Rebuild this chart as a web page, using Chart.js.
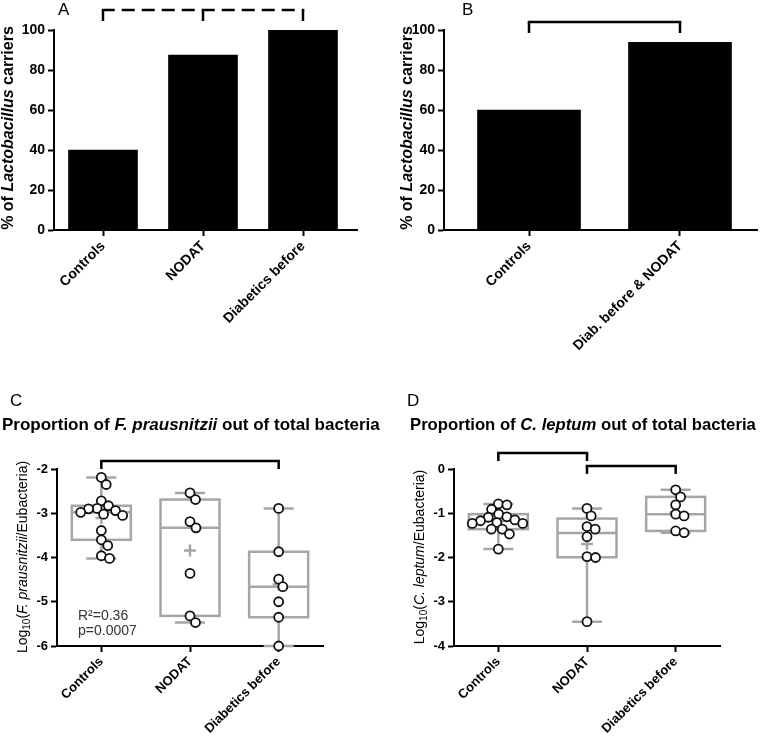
<!DOCTYPE html>
<html><head><meta charset="utf-8">
<script src="https://cdn.jsdelivr.net/npm/chart.js@4"></script>
<style>
body{margin:0;background:#fff;}
#wrap{position:relative;width:763px;height:736px;overflow:hidden;font-family:"Liberation Sans",Arial,sans-serif;color:#000;}
canvas{position:absolute;}
.t{position:absolute;white-space:nowrap;}
.let{font-size:17px;line-height:20px;}
.ttl{font-size:17px;font-weight:bold;line-height:20px;}
.ya{font-size:16px;font-weight:bold;line-height:20px;height:20px;width:300px;text-align:center;transform:rotate(-90deg);transform-origin:50% 50%;}
.yl{font-size:14px;line-height:18px;height:18px;width:300px;text-align:center;transform:rotate(-90deg);transform-origin:50% 50%;}
.yl sub{font-size:10px;vertical-align:-3px;line-height:0;}
.st{font-size:14px;line-height:15px;color:#333;}
</style></head>
<body>
<div id="wrap">
<canvas id="cA" width="380" height="380" style="left:0;top:0"></canvas>
<canvas id="cB" width="383" height="380" style="left:380px;top:0"></canvas>
<canvas id="cC" width="380" height="356" style="left:0;top:380px"></canvas>
<canvas id="cD" width="383" height="356" style="left:380px;top:380px"></canvas>

<div class="t let" style="left:58px;top:0px">A</div>
<div class="t let" style="left:462px;top:0px">B</div>
<div class="t let" style="left:10px;top:391px">C</div>
<div class="t let" style="left:407px;top:391px">D</div>

<div class="t ttl" style="left:2px;top:415px">Proportion of <i>F. prausnitzii</i> out of total bacteria</div>
<div class="t ttl" style="left:410px;top:415px;font-size:16.7px">Proportion of <i>C. leptum</i> out of total bacteria</div>

<div class="t ya" style="left:-142px;top:118px">% of <i>Lactobacillus</i> carriers</div>
<div class="t ya" style="left:257px;top:118px">% of <i>Lactobacillus</i> carriers</div>
<div class="t yl" style="left:-128px;top:548px">Log<sub>10</sub>(<i>F. prausnitzii</i>/Eubacteria)</div>
<div class="t yl" style="left:269px;top:548px">Log<sub>10</sub>(<i>C. leptum</i>/Eubacteria)</div>

<div class="t st" style="left:78px;top:608px">R²=0.36<br>p=0.0007</div>
</div>
<script>
// ---------- data ----------
const catsA = ['Controls', 'NODAT', 'Diabetics before'];
const valsA = [40, 87.5, 100];

const catsB = ['Controls', 'Diab. before & NODAT'];
const valsB = [60, 93.8];

const catsC = ['Controls', 'NODAT', 'Diabetics before'];
const fpControls = [-2.19, -2.35, -2.72, -2.83, -2.89, -2.90, -2.94, -2.98, -3.02, -3.05, -3.39, -3.60, -3.73, -3.96, -4.02];
const fpNodat = [-2.54, -2.69, -3.19, -3.33, -4.36, -5.32, -5.47];
const fpDiab = [-2.89, -3.87, -4.49, -4.66, -5.00, -5.35, -6.00];

const catsD = ['Controls', 'NODAT', 'Diabetics before'];
const clControls = [-0.79, -0.81, -0.91, -1.02, -1.08, -1.09, -1.15, -1.17, -1.21, -1.23, -1.23, -1.36, -1.36, -1.47, -1.81];
const clNodat = [-0.89, -1.06, -1.30, -1.36, -1.53, -1.98, -2.00, -3.45];
const clDiab = [-0.47, -0.63, -0.81, -1.02, -1.06, -1.40, -1.44];

// ---------- styling helpers ----------
Chart.defaults.font.family = '"Liberation Sans", Arial, sans-serif';
Chart.defaults.color = '#000';

const gridStyle = {display: true, offset: false, drawOnChartArea: false, drawTicks: true, tickLength: 6, tickWidth: 2, tickColor: '#000'};
const borderStyle = {display: true, color: '#000', width: 2};

function catAxis(labels, min, max, fontSize, h) {
  return {
    type: 'linear', min: min, max: max, offset: false,
    afterBuildTicks: s => { s.ticks = labels.map((_, i) => ({value: i})); },
    afterFit: s => { s.height = h; },
    ticks: {autoSkip: false, minRotation: 45, maxRotation: 45, padding: 2,
      font: {size: fontSize, weight: 'bold'}, color: '#000',
      callback: (v, i) => labels[i]},
    grid: gridStyle, border: borderStyle
  };
}
function valAxis(min, max, step, fontSize, w) {
  return {
    type: 'linear', min: min, max: max,
    afterFit: s => { s.width = w; },
    ticks: {stepSize: step, padding: 3, font: {size: fontSize, weight: 'bold'}, color: '#000'},
    grid: gridStyle, border: borderStyle
  };
}
function bracketPlugin(list) {
  return {
    id: 'brackets',
    afterDraw(chart) {
      const ctx = chart.ctx, xs = chart.scales.x, ys = chart.scales.y;
      ctx.save();
      ctx.strokeStyle = '#000';
      ctx.lineWidth = 2.5;
      for (const b of list) {
        const y0 = ys.getPixelForValue(b.y), y1 = ys.getPixelForValue(b.drop);
        const xa = xs.getPixelForValue(b.cats[0]);
        const xb = xs.getPixelForValue(b.cats[b.cats.length - 1]);
        ctx.setLineDash(b.dash ? [13, 7] : []);
        ctx.beginPath(); ctx.moveTo(xa - 1.25, y0); ctx.lineTo(xb + 1.25, y0); ctx.stroke();
        ctx.setLineDash([]);
        for (const c of b.cats) {
          const xc = xs.getPixelForValue(c);
          ctx.beginPath(); ctx.moveTo(xc, y0); ctx.lineTo(xc, y1); ctx.stroke();
        }
      }
      ctx.restore();
    }
  };
}
function quant(sorted, p) {
  const n = sorted.length;
  let pos = (n + 1) * p;
  if (pos < 1) pos = 1;
  if (pos > n) pos = n;
  const lo = Math.floor(pos), f = pos - lo;
  if (lo >= n) return sorted[n - 1];
  return sorted[lo - 1] + f * (sorted[lo] - sorted[lo - 1]);
}
const BOX_HALF = 29.5, CAP_HALF = 15, PLUS_HALF = 6;
function boxPlugin(groups) {
  return {
    id: 'boxes',
    beforeDatasetsDraw(chart) {
      const ctx = chart.ctx, xs = chart.scales.x, ys = chart.scales.y;
      ctx.save();
      ctx.strokeStyle = '#a6a6a6';
      ctx.lineWidth = 2.5;
      groups.forEach((vals, gi) => {
        const s = vals.slice().sort((a, b) => a - b);
        const q1 = quant(s, 0.25), med = quant(s, 0.5), q3 = quant(s, 0.75);
        const mn = s[0], mx = s[s.length - 1];
        const mean = s.reduce((a, b) => a + b, 0) / s.length;
        const xc = xs.getPixelForValue(gi);
        const py = v => ys.getPixelForValue(v);
        ctx.beginPath();
        ctx.moveTo(xc, py(q3)); ctx.lineTo(xc, py(mx));
        ctx.moveTo(xc - CAP_HALF, py(mx)); ctx.lineTo(xc + CAP_HALF, py(mx));
        ctx.moveTo(xc, py(q1)); ctx.lineTo(xc, py(mn));
        ctx.moveTo(xc - CAP_HALF, py(mn)); ctx.lineTo(xc + CAP_HALF, py(mn));
        ctx.stroke();
        ctx.fillStyle = '#fff';
        ctx.fillRect(xc - BOX_HALF, py(q3), 2 * BOX_HALF, py(q1) - py(q3));
        ctx.strokeRect(xc - BOX_HALF, py(q3), 2 * BOX_HALF, py(q1) - py(q3));
        ctx.beginPath(); ctx.moveTo(xc - BOX_HALF, py(med)); ctx.lineTo(xc + BOX_HALF, py(med)); ctx.stroke();
        ctx.beginPath();
        ctx.moveTo(xc - PLUS_HALF, py(mean)); ctx.lineTo(xc + PLUS_HALF, py(mean));
        ctx.moveTo(xc, py(mean) - PLUS_HALF); ctx.lineTo(xc, py(mean) + PLUS_HALF);
        ctx.stroke();
      });
      ctx.restore();
    }
  };
}
function swarm(chart, groups, d) {
  const xs = chart.scales.x, ys = chart.scales.y;
  const pxPerX = xs.getPixelForValue(1) - xs.getPixelForValue(0);
  const pts = [];
  groups.forEach((vals, gi) => {
    const placed = [];
    const order = vals.map((v, i) => i).sort((a, b) => vals[b] - vals[a]);
    for (const i of order) {
      const y = ys.getPixelForValue(vals[i]);
      const cands = [0];
      for (const p of placed) {
        const dy = Math.abs(p.y - y);
        if (dy < d) { const dx = Math.sqrt(d * d - dy * dy) + 0.01; cands.push(p.x + dx, p.x - dx); }
      }
      cands.sort((a, b) => Math.abs(a) - Math.abs(b));
      const best = cands.find(c => placed.every(p => (p.x - c) ** 2 + (p.y - y) ** 2 >= d * d - 0.05));
      placed.push({x: best, y: y});
      pts.push({x: gi + best / pxPerX, y: vals[i]});
    }
  });
  chart.data.datasets[0].data = pts;
  chart.update('none');
}
const baseOpts = (pad) => ({
  responsive: false, animation: false,
  layout: {padding: pad},
  plugins: {legend: {display: false}, tooltip: {enabled: false}}
});

// ---------- panel A ----------
new Chart(document.getElementById('cA'), {
  type: 'bar',
  data: {datasets: [{data: valsA.map((v, i) => ({x: i, y: v})), backgroundColor: '#000', barThickness: 69}]},
  options: Object.assign(baseOpts({top: 30, right: 23, left: 0, bottom: 0}), {
    scales: {x: catAxis(catsA, -0.49, 2.54, 14, 150), y: valAxis(0, 100, 20, 14, 54)}
  }),
  plugins: [bracketPlugin([{cats: [0, 1, 2], y: 110, drop: 104.5, dash: true}])]
});

// ---------- panel B ----------
new Chart(document.getElementById('cB'), {
  type: 'bar',
  data: {datasets: [{data: valsB.map((v, i) => ({x: i, y: v})), backgroundColor: '#000', barThickness: 103}]},
  options: Object.assign(baseOpts({top: 30, right: 6, left: 0, bottom: 0}), {
    scales: {x: catAxis(catsB, -0.563, 1.51, 14, 150), y: valAxis(0, 100, 20, 14, 64)}
  }),
  plugins: [bracketPlugin([{cats: [0, 1], y: 104, drop: 98.5}])]
});

// ---------- panel C ----------
const groupsC = [fpControls, fpNodat, fpDiab];
const chartC = new Chart(document.getElementById('cC'), {
  type: 'scatter',
  data: {datasets: [{data: [], pointRadius: 4.5, pointBorderWidth: 1.8, pointBackgroundColor: '#fff', pointBorderColor: '#111', clip: false}]},
  options: Object.assign(baseOpts({top: 89, right: 57, left: 0, bottom: 0}), {
    scales: {x: catAxis(catsC, -0.5, 2.5, 13, 90), y: valAxis(-6, -2, 1, 13, 57)}
  }),
  plugins: [boxPlugin(groupsC), bracketPlugin([{cats: [0, 2], y: -1.82, drop: -2.0}])]
});
swarm(chartC, groupsC, 8.6);

// ---------- panel D ----------
const groupsD = [clControls, clNodat, clDiab];
const chartD = new Chart(document.getElementById('cD'), {
  type: 'scatter',
  data: {datasets: [{data: [], pointRadius: 4.5, pointBorderWidth: 1.8, pointBackgroundColor: '#fff', pointBorderColor: '#111', clip: false}]},
  options: Object.assign(baseOpts({top: 89, right: 43, left: 0, bottom: 0}), {
    scales: {x: catAxis(catsD, -0.5, 2.5, 13, 90), y: valAxis(-4, 0, 1, 13, 74)}
  }),
  plugins: [boxPlugin(groupsD), bracketPlugin([{cats: [0, 1], y: 0.36, drop: 0.18}, {cats: [1, 2], y: 0.07, drop: -0.11}])]
});
swarm(chartD, groupsD, 8.6);
</script>
</body></html>
